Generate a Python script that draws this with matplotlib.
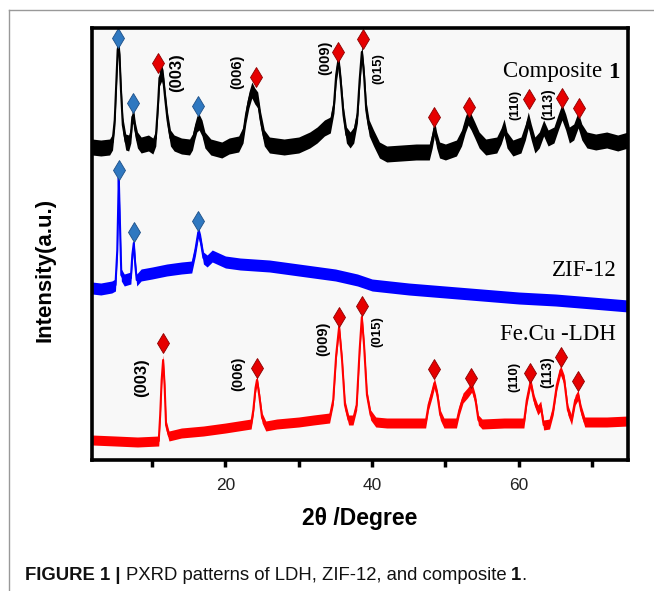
import matplotlib
matplotlib.use("Agg")
import numpy as np
import matplotlib.pyplot as plt
from matplotlib.lines import Line2D

# diffraction traces, 2theta in degrees vs. stacked intensity (a.u.)
COMP_2T = [1.8, 3, 4.2, 4.6, 4.9, 5.1, 5.3, 5.4, 5.55, 5.75, 6.0, 6.4, 6.8, 7.1, 7.3, 7.45, 7.7,
           8.0, 8.5, 9.5, 10.1, 10.5, 10.8, 11.0, 11.3, 11.5, 11.8, 12.1, 12.5, 13.0, 14, 15.1,
           15.5, 15.8, 16.1, 16.4, 16.8, 17.2, 18, 19.5, 20.5, 21.8, 22.4, 22.8, 23.2, 23.6, 24.0,
           24.4, 24.8, 25.3, 26, 28, 30, 31.5, 32.5, 33.5, 34.3, 34.8, 35.1, 35.4, 35.7, 36.1, 36.5,
           37.0, 37.5, 38.0, 38.3, 38.6, 38.9, 39.2, 39.6, 40.2, 41, 42, 44, 46, 47.8, 48.2, 48.5,
           48.8, 49.2, 50, 51.5, 52.2, 52.7, 53.1, 53.5, 54, 54.6, 55.5, 57, 57.6, 58.0, 58.4, 59.2,
           60.3, 60.9, 61.3, 61.7, 62.2, 62.8, 63.4, 64, 64.8, 65.4, 65.9, 66.4, 66.9, 67.5, 68.1,
           68.6, 69.3, 70.5, 72, 73.5, 74.9]
COMP_I = [313, 312, 313, 318, 340, 375, 410, 415, 405, 370, 335, 318, 317, 325, 343, 345, 330,
          320, 315, 317, 314, 322, 355, 382, 387, 382, 360, 340, 322, 317, 314, 313,
          318, 328, 336, 338, 332, 320, 313, 310, 314, 316, 325, 345, 360, 370, 364,
          360, 340, 322, 315, 313, 315, 320, 325, 332, 335, 355, 385, 400, 380, 345, 325,
          320, 325, 345, 380, 408, 385, 350, 332, 322, 310, 306, 307, 308, 308, 320, 332,
          320, 310, 308, 312, 322, 335, 343, 338, 330, 320, 313, 315, 324, 333, 320, 312,
          315, 328, 340, 328, 315, 320, 332, 322, 325, 338, 348, 338, 325, 328, 340,
          328, 320, 318, 320, 317, 320]

ZIF_2T = [1.8, 3, 4.5, 5.0, 5.25, 5.45, 5.6, 5.8, 6.2, 7.1, 7.3, 7.5, 7.7, 7.9, 8.5, 10, 12, 14,
          15.4, 15.9, 16.3, 16.6, 17.0, 17.5, 18.2, 18.8, 20, 22, 24, 26, 28, 30, 32, 35, 38, 40,
          45, 50, 55, 60, 65, 70, 74.9]
ZIF_I = [172, 171, 173, 175, 210, 282, 240, 185, 180, 182, 205, 217, 195, 180, 185, 187, 190, 192,
         193, 210, 228, 220, 202, 199, 204, 202, 198, 196, 195, 194, 192, 190, 188, 185, 180, 175,
         171, 168, 165, 162, 160, 157, 154]

LDH_2T = [1.8, 5, 8, 10.9, 11.1, 11.3, 11.5, 11.7, 11.9, 12.3, 14, 17, 20, 23.5, 23.8, 24.1, 24.3,
          24.6, 25, 25.5, 27, 30, 32, 34.2, 34.7, 35.1, 35.5, 35.9, 36.3, 36.8, 37.4, 37.9, 38.3,
          38.6, 38.9, 39.3, 39.8, 40.5, 42, 45, 47.3, 47.7, 48.2, 48.5, 48.9, 49.3, 49.8, 51.5,
          51.9, 52.4, 53.0, 53.6, 54.1, 54.5, 55, 58, 60.7, 61.1, 61.6, 62.1, 62.6, 63.0, 63.4,
          64.2, 64.7, 65.2, 65.7, 66.2, 66.7, 67.2, 67.7, 68.1, 68.5, 69, 72, 74.9]
LDH_I = [20, 19, 18, 19, 45, 80, 100, 75, 35, 24, 27, 29, 32, 36, 50, 72, 80,
         65, 42, 34, 36, 38, 40, 42, 60, 105, 133, 100, 55, 40, 40, 55, 110,
         143, 115, 65, 45, 38, 37, 37, 37, 55, 68, 77, 65, 45, 37, 37,
         50, 62, 67, 73, 60, 40, 36, 37, 37, 60, 78, 60, 50, 54, 35,
         36, 50, 75, 90, 80, 50, 40, 60, 65, 50, 38, 38, 39]

# peak markers: blue = ZIF-12, red = LDH
COMP_ZIF_2T = [5.4, 7.4, 16.3]
COMP_ZIF_I = [422, 357, 354]
COMP_LDH_2T = [10.8, 24.2, 35.4, 38.8, 48.5, 53.2, 61.4, 65.9, 68.2]
COMP_LDH_I = [397, 383, 408, 421, 343, 353, 361, 362, 352]
ZIF_MARK_2T = [5.5, 7.5, 16.3]
ZIF_MARK_I = [290, 228, 239]
LDH_MARK_2T = [11.5, 24.3, 35.5, 38.6, 48.5, 53.5, 61.6, 65.8, 68.1]
LDH_MARK_I = [117, 92, 143, 154, 91, 82, 87, 103, 79]

# Miller indices
HKL = ["(003)", "(006)", "(009)", "(015)", "(110)", "(113)"]
COMP_HKL_2T = [13.4, 21.6, 33.6, 40.8, 59.5, 64.0]
COMP_HKL_I = [387, 388, 402, 391, 355, 356]
LDH_HKL_2T = [8.6, 21.7, 33.3, 40.7, 59.4, 63.9]
LDH_HKL_I = [82, 86, 121, 128, 83, 88]
HKL_SIZE = [12, 10.5, 10.5, 9.5, 9.5, 10]

SERIES = ["Composite", "ZIF-12", "Fe.Cu -LDH"]
SERIES_I = [388, 190, 125]

SANS = ["Liberation Sans", "DejaVu Sans"]
SERIF = ["Liberation Serif", "DejaVu Serif"]

fig = plt.figure(figsize=(6.54, 5.91), dpi=100)
ax = fig.add_axes([92 / 654, 1 - 460 / 591, 536 / 654, 432 / 591])
ax.set_facecolor("#f8f8f8")


def trace(x, y, color, amp):
    x = np.asarray(x, float)
    y = np.asarray(y, float)
    ax.fill_between(x, y - amp, y + amp, color=color, lw=0)
    ax.plot(x, y, color=color, lw=1.5)


trace(COMP_2T, COMP_I, "black", 8)
trace(ZIF_2T, ZIF_I, "#0000ff", 6)
trace(LDH_2T, LDH_I, "#ff0000", 5)

blue_kw = dict(ls="none", marker="d", ms=10, mfc="#2f78c0", mec="#1d4f86", mew=0.6)
red_kw = dict(ls="none", marker="d", ms=10, mfc="#e60000", mec="#8b0000", mew=0.6)
ax.plot(COMP_ZIF_2T, COMP_ZIF_I, **blue_kw)
ax.plot(ZIF_MARK_2T, ZIF_MARK_I, **blue_kw)
ax.plot(COMP_LDH_2T, COMP_LDH_I, **red_kw)
ax.plot(LDH_MARK_2T, LDH_MARK_I, **red_kw)

for lab, fs, x1, y1, x2, y2 in zip(HKL, HKL_SIZE, COMP_HKL_2T, COMP_HKL_I, LDH_HKL_2T, LDH_HKL_I):
    for x, y in ((x1, y1), (x2, y2)):
        ax.text(x, y, lab, rotation=90, ha="center", va="center", fontsize=fs,
                fontweight="bold", family=SANS)

# series names, right-aligned at the frame
renderer = fig.canvas.get_renderer()
one = ax.text(73.8, SERIES_I[0], "1", ha="right", va="center", fontsize=16.5,
              fontweight="bold", family=SERIF)
x0 = ax.transData.inverted().transform((one.get_window_extent(renderer).x0, 0))[0]
ax.text(x0, SERIES_I[0], SERIES[0] + " ", ha="right", va="center", fontsize=16.5, family=SERIF)
ax.text(73.3, SERIES_I[1], SERIES[1], ha="right", va="center", fontsize=16.5, family=SERIF)
ax.text(73.3, SERIES_I[2], SERIES[2], ha="right", va="center", fontsize=16.5, family=SERIF)

ax.set_xlim(1.8, 74.9)
ax.set_ylim(0, 432)
ax.set_yticks([])
ax.set_xticks(range(10, 80, 10))
ax.set_xticklabels(["", "20", "", "40", "", "60", ""], family=SANS, fontsize=12.5, color="#222222")
ax.tick_params(axis="x", direction="out", length=5, width=2.5, pad=8)
for s in ax.spines.values():
    s.set_linewidth(2.6)

fig.text(45 / 654, 1 - 270 / 591, "Intensity(a.u.)", rotation=90, ha="center", va="center",
         fontsize=16, fontweight="bold", family=SANS)
fig.text(360 / 654, 1 - 519 / 591, "2θ /Degree", ha="center", va="center",
         fontsize=16.5, fontweight="bold", family=SANS)

# caption, written piece by piece so the bold parts line up
cx = 25 / 654
cy = 1 - 575 / 591
for piece, w in [("FIGURE 1 | ", "bold"), ("PXRD patterns of LDH, ZIF-12, and composite ", "normal"),
                 ("1", "bold"), (".", "normal")]:
    t = fig.text(cx, cy, piece, ha="left", va="center", fontsize=13.3, fontweight=w,
                 family=SANS, color="#111111")
    bb = t.get_window_extent(renderer)
    cx = fig.transFigure.inverted().transform((bb.x1, 0))[0]

# thin page frame on top and left
fig.add_artist(Line2D([9 / 654, 9 / 654], [0, 1 - 10 / 591], transform=fig.transFigure,
                      color="#999999", lw=1))
fig.add_artist(Line2D([9 / 654, 1], [1 - 10 / 591, 1 - 10 / 591], transform=fig.transFigure,
                      color="#999999", lw=1))

fig.savefig("out.png", dpi=100)
